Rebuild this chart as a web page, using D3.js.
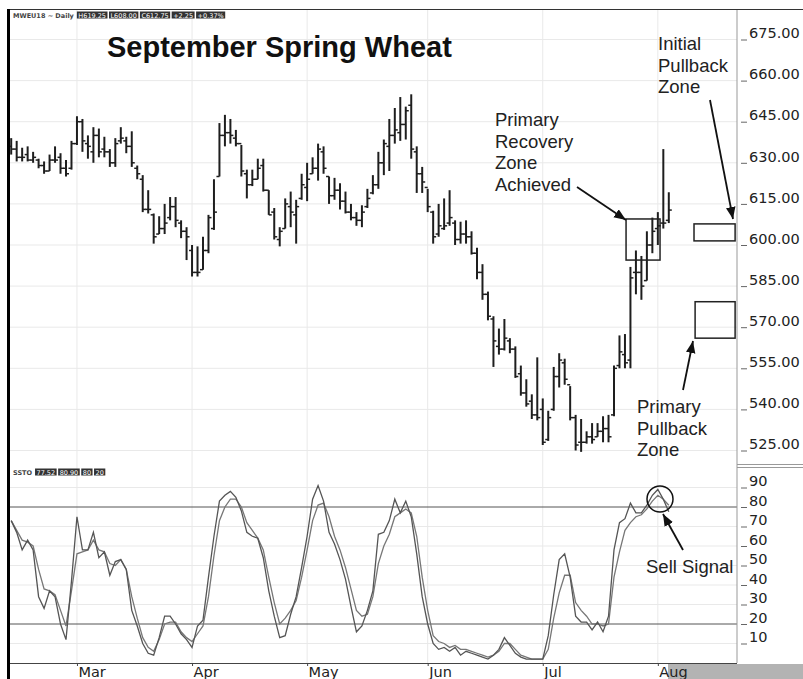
<!DOCTYPE html>
<html>
<head>
<meta charset="utf-8">
<script src="https://cdn.jsdelivr.net/npm/d3@7/dist/d3.min.js"></script>
<style>
  body { margin: 0; background: #fff; }
  svg { display: block; }
  .axis text { font-family: "DejaVu Sans", sans-serif; fill: #222; }
  .note { font-family: "Liberation Sans", Arial, sans-serif; font-size: 18.5px; fill: #222; }
</style>
</head>
<body>
<div id="chart"></div>
<script>

// frame constants
const FRAME_WIDTH = 803;
const FRAME_HEIGHT = 679;
const PLOT = {left: 10, right: 737, top: 10, priceBottom: 463, bottom: 663};

// daily bars, Feb 13 .. Aug 2 (one entry per trading day)
const opens  = [636,635,632,633,631,631,629,627,631,632,628,628,637,645,637,634,640,635,634,630,
                638,638,636,628,624,613,611,604,606,610,614,608,605,598,590,591,598,606,625,640,
                641,639,637,626,622,624,629,620,612,602,606,614,611,617,621,626,628,634,625,618,
                620,616,612,610,609,614,619,622,630,636,640,641,644,651,634,626,621,612,604,606,
                608,608,602,604,603,597,590,582,573,563,562,565,562,553,546,543,538,540,529,540,
                552,557,549,537,528,528,530,530,532,533,538,556,560,558,590,590,587,600,606,608,609];
const highs  = [639,638,635.5,636,634,631.5,630.5,633,636,633.5,631,638,647,646,640,643,642.5,639.5,635,639,
                643,639.5,641.5,629,625.5,620,611.5,610.5,615,617.5,617.5,609,606.5,600,599.5,603,611,624,644.5,647.5,
                646,642,636.5,627.5,627.5,631.5,631.5,620,613.5,606.5,617,619.5,616.5,626,630,632,637,636,625,624.5,
                622.5,619.5,615,612,614.5,620.5,625.5,634,638.5,646,650,654,650.5,655,636,628.5,620.5,612.5,615,617,
                620,609,608.5,609,605,599,593,583,574,569.5,573,566,563,556,551,545.5,559,544,539.5,555.5,
                560.5,558.5,548.5,538,536.5,532,535,535,537.5,538,556,567,567.5,592,598,596,605,610,612,635,619.25];
const lows   = [633,630.5,630.5,630.5,630,628,626,627,630,626,625,627.5,636.5,634,631.5,630,632,632,628.5,628.5,
                637,633.5,628.5,624,612,611.5,600.5,604,604,609,606.5,602.5,594.5,588.5,588.5,591,597,605.5,625,636,
                637,636,625,617,621.5,624,619.5,611,602,599.5,606,606.5,600.5,616.5,616,626,623.5,626,615,616.5,
                613,611.5,609,607,606.5,613.5,618.5,620.5,625.5,627,637,638,638.5,631.5,619,619,612,600.5,603,605.5,
                607,600,600.5,600.5,596.5,587.5,580,572.5,555.5,560,561.5,560.5,551.5,545,541,536.5,536,527,528.5,539.5,
                548,549,536,525,524.5,527.5,527.5,530,528,528,537.5,555,555,555,582,580,587,597,600,606,608];
const closes = [635,632,632,631,632,629,627,631,631,628,626,637,645,638,636,640,634,634,630,637,
                639,636,630,626,613,613,603,606,608,614,609,605,603,590,590,598,610,612,640,641,
                640,637,627,622,624,628,620,611,603,605,615,612,614,622,624,628,635,628,618,620,
                616,612,610,609,612,617,622,630,637,640,642,644,649,635,626,623,614,603,607,607,
                610,602,604,603,597,590,582,574,565,562,566,562,552,546,542,538,537,528,537,552,
                558,551,537,527,528,530,529,532,533,530,555,561,557,588,590,585,600,605,607,608,612.75];

// slow stochastic, %K and %D
const stochK = [73,67,58,63,58,34,28,37,34,20,12,42,75,58,58,67,54,57,45,52,
                53,48,27,19,10,5,4,13,24,24,20,15,12,8,19,22,44,65,83,86,
                88,85,78,67,65,64,54,37,24,13,14,25,34,49,65,84,91,83,67,61,
                53,43,29,16,19,27,37,66,67,73,84,77,83,75,56,34,20,10,7,8,
                6,8,4,6,5,4,3,2,4,7,13,9,5,3,2,2,2,2,14,35,
                53,56,44,24,21,21,17,21,16,24,58,72,74,82,77,77,81,86,89,84,77.52];
const stochD = [73,68,63,62,60,48,38,37,35,27,19,37,56,57,58,63,58,57,51,50,
                53,48,34,23,13,8,6,12,20,21,21,16,13,11,15,19,34,55,73,80,
                84,84,80,72,68,64,58,44,31,20,23,27,32,44,58,73,81,82,75,65,
                58,49,38,27,24,25,34,51,60,66,75,77,79,77,65,44,27,14,11,10,
                8,9,7,7,6,5,4,3,4,6,10,10,7,4,3,2,2,2,7,23,
                36,45,45,31,27,24,20,20,19,20,44,57,68,72,75,76,79,83,86,84,80.90];

// axis labels
const priceTicks = [525, 540, 555, 570, 585, 600, 615, 630, 645, 660, 675];
const stochTicks = [10, 20, 30, 40, 50, 60, 70, 80, 90];
const monthNames = ["Mar", "Apr", "May", "Jun", "Jul", "Aug"];
const monthIdx = [12, 33, 54, 76, 97, 118];

// zones (bar index / price)
const recoveryZone = {from: 112.2, to: 118.4, low: 594.5, high: 609.5};
const initialZone  = {from: 124.6, to: 132.1, low: 601.5, high: 607.7};
const pullbackZone = {from: 124.8, to: 132.1, low: 566, high: 579.3};

const headerVals = ["H619.25", "L608.00", "C612.75", "+2.25", "+0.37%"];
const stochVals = ["77.52", "80.90", "80", "20"];

const FRAME = d3.select("#chart")
                .append("svg")
                  .attr("width", FRAME_WIDTH)
                  .attr("height", FRAME_HEIGHT);

// scales
const X_SCALE = d3.scaleLinear().domain([0, 120]).range([11.2, 668.8]);
const PRICE_SCALE = d3.scaleLinear().domain([525, 675]).range([450.5, 39.5]);
const STOCH_SCALE = d3.scaleLinear().domain([0, 100]).range([663, 468]);

// grid
FRAME.append("g").selectAll("line")
    .data(priceTicks).enter().append("line")
      .attr("x1", PLOT.left).attr("x2", PLOT.right)
      .attr("y1", (d) => PRICE_SCALE(d)).attr("y2", (d) => PRICE_SCALE(d))
      .attr("stroke", "#e9e9e9");

FRAME.append("g").selectAll("line")
    .data(stochTicks.filter((d) => d != 20 && d != 80)).enter().append("line")
      .attr("x1", PLOT.left).attr("x2", PLOT.right)
      .attr("y1", (d) => STOCH_SCALE(d)).attr("y2", (d) => STOCH_SCALE(d))
      .attr("stroke", "#e9e9e9");

FRAME.append("g").selectAll("line")
    .data(monthIdx).enter().append("line")
      .attr("x1", (d) => X_SCALE(d)).attr("x2", (d) => X_SCALE(d))
      .attr("y1", PLOT.top).attr("y2", PLOT.bottom)
      .attr("stroke", "#e9e9e9");

// overbought / oversold
FRAME.append("g").selectAll("line")
    .data([20, 80]).enter().append("line")
      .attr("x1", PLOT.left).attr("x2", PLOT.right)
      .attr("y1", (d) => STOCH_SCALE(d)).attr("y2", (d) => STOCH_SCALE(d))
      .attr("stroke", "#555").attr("stroke-width", 1);

// frame lines
FRAME.append("line").attr("x1", PLOT.left).attr("x2", FRAME_WIDTH)
    .attr("y1", 9.5).attr("y2", 9.5).attr("stroke", "#333");
FRAME.append("line").attr("x1", PLOT.right).attr("x2", PLOT.right)
    .attr("y1", PLOT.top).attr("y2", PLOT.bottom).attr("stroke", "#999");
FRAME.append("line").attr("x1", PLOT.right).attr("x2", FRAME_WIDTH)
    .attr("y1", 464.5).attr("y2", 464.5).attr("stroke", "#999");
FRAME.append("line").attr("x1", PLOT.right).attr("x2", FRAME_WIDTH)
    .attr("y1", 467.5).attr("y2", 467.5).attr("stroke", "#999");
FRAME.append("rect").attr("x", 668).attr("y", 664)
    .attr("width", FRAME_WIDTH - 668).attr("height", 15).attr("fill", "#b3b3b3");

// price bars
const idx = d3.range(highs.length);
const BARS = FRAME.append("g").attr("stroke", "#1e1e1e");
BARS.selectAll(".hl").data(idx).enter().append("line")
    .attr("x1", (i) => X_SCALE(i)).attr("x2", (i) => X_SCALE(i))
    .attr("y1", (i) => PRICE_SCALE(highs[i])).attr("y2", (i) => PRICE_SCALE(lows[i]))
    .attr("stroke-width", 2);
BARS.selectAll(".op").data(idx).enter().append("line")
    .attr("x1", (i) => X_SCALE(i) - 3).attr("x2", (i) => X_SCALE(i))
    .attr("y1", (i) => PRICE_SCALE(opens[i])).attr("y2", (i) => PRICE_SCALE(opens[i]))
    .attr("stroke-width", 1.5);
BARS.selectAll(".cl").data(idx).enter().append("line")
    .attr("x1", (i) => X_SCALE(i)).attr("x2", (i) => X_SCALE(i) + 3)
    .attr("y1", (i) => PRICE_SCALE(closes[i])).attr("y2", (i) => PRICE_SCALE(closes[i]))
    .attr("stroke-width", 1.5);

// stochastic lines
const stochLine = (arr) => d3.line()
    .x((i) => X_SCALE(i))
    .y((i) => STOCH_SCALE(arr[i]))(idx);
FRAME.append("path").attr("d", stochLine(stochD))
    .attr("fill", "none").attr("stroke", "#777").attr("stroke-width", 1.3);
FRAME.append("path").attr("d", stochLine(stochK))
    .attr("fill", "none").attr("stroke", "#555").attr("stroke-width", 1.3);

// left border
FRAME.append("rect").attr("x", 7).attr("y", 9).attr("width", 3)
    .attr("height", FRAME_HEIGHT - 9).attr("fill", "#000");

// axes
const priceAxis = FRAME.append("g").attr("class", "axis")
    .attr("transform", "translate(741,0)")
    .call(d3.axisRight(PRICE_SCALE).tickValues(priceTicks)
          .tickSize(6).tickPadding(2).tickFormat(d3.format(".2f")));
const stochAxis = FRAME.append("g").attr("class", "axis")
    .attr("transform", "translate(741,0)")
    .call(d3.axisRight(STOCH_SCALE).tickValues(stochTicks)
          .tickSize(6).tickPadding(2));
[priceAxis, stochAxis].forEach((g) => {
  g.select(".domain").remove();
  g.selectAll("line").attr("stroke", "#666");
  g.selectAll("text").attr("font-size", "14.5px").attr("dy", "-0.12em");
});

const monthAxis = FRAME.append("g").attr("class", "axis")
    .attr("transform", "translate(0," + PLOT.bottom + ")")
    .call(d3.axisBottom(X_SCALE).tickValues(monthIdx)
          .tickSize(3).tickPadding(1).tickFormat((d, i) => monthNames[i]));
monthAxis.select(".domain").attr("d", "M" + PLOT.left + ",0.5H" + PLOT.right).attr("stroke", "#444");
monthAxis.selectAll("line").attr("stroke", "#444");
monthAxis.selectAll("text").attr("font-size", "14.5px").attr("text-anchor", "start").attr("x", 1);

// zones
[recoveryZone, initialZone, pullbackZone].forEach((z) => {
  FRAME.append("rect")
      .attr("x", X_SCALE(z.from)).attr("y", PRICE_SCALE(z.high))
      .attr("width", X_SCALE(z.to) - X_SCALE(z.from))
      .attr("height", PRICE_SCALE(z.low) - PRICE_SCALE(z.high))
      .attr("fill", "none").attr("stroke", "#222").attr("stroke-width", 1.5);
});

// title
FRAME.append("text").attr("x", 107).attr("y", 57)
    .attr("font-family", "Liberation Sans, Arial, sans-serif")
    .attr("font-weight", "bold").attr("font-size", "29px").attr("fill", "#111")
    .text("September Spring Wheat");

// header strips
function strip(label, vals, x0, y0) {
  const t = FRAME.append("text").attr("x", x0).attr("y", y0 + 2.5)
      .attr("font-family", "DejaVu Sans, sans-serif").attr("font-size", "6.5px")
      .attr("font-weight", "bold").attr("fill", "#444").text(label);
  let x = x0 + t.node().getComputedTextLength() + 3;
  vals.forEach((v) => {
    const g = FRAME.append("g");
    const r = g.append("rect").attr("y", y0 - 3.5).attr("height", 7).attr("fill", "#333");
    const tt = g.append("text").attr("x", x + 1.5).attr("y", y0 + 2.5)
        .attr("font-family", "DejaVu Sans, sans-serif").attr("font-size", "6.5px")
        .attr("fill", "#fff").text(v);
    const w = tt.node().getComputedTextLength() + 3;
    r.attr("x", x).attr("width", w);
    x += w + 1.5;
  });
}
strip("MWEU18 ~ Daily", headerVals, 13, 15);
strip("SSTO", stochVals, 13, 472);

// annotations
const defs = FRAME.append("defs");
defs.append("marker").attr("id", "head")
    .attr("viewBox", "0 0 10 8").attr("refX", 10).attr("refY", 4)
    .attr("markerWidth", 12).attr("markerHeight", 10)
    .attr("markerUnits", "userSpaceOnUse").attr("orient", "auto")
  .append("path").attr("d", "M0,0L10,4L0,8z").attr("fill", "#111");

function note(lines, x, y0) {
  lines.forEach((s, k) => {
    FRAME.append("text").attr("class", "note")
        .attr("x", x).attr("y", y0 + k * 21.5).text(s);
  });
}
function arrow(x1, y1, x2, y2) {
  FRAME.append("line").attr("x1", x1).attr("y1", y1).attr("x2", x2).attr("y2", y2)
      .attr("stroke", "#111").attr("stroke-width", 1.8).attr("marker-end", "url(#head)");
}

note(["Initial", "Pullback", "Zone"], 658, 50);
note(["Primary", "Recovery", "Zone", "Achieved"], 495, 126);
note(["Primary", "Pullback", "Zone"], 637, 413);
note(["Sell Signal"], 646, 573);

arrow(577, 187, 626, 220);
arrow(710, 100, 733, 219);
arrow(683, 390, 693, 341);
arrow(683, 550, 663, 514);

FRAME.append("circle").attr("cx", 660).attr("cy", 499).attr("r", 13)
    .attr("fill", "none").attr("stroke", "#111").attr("stroke-width", 1.5);

</script>
</body>
</html>
